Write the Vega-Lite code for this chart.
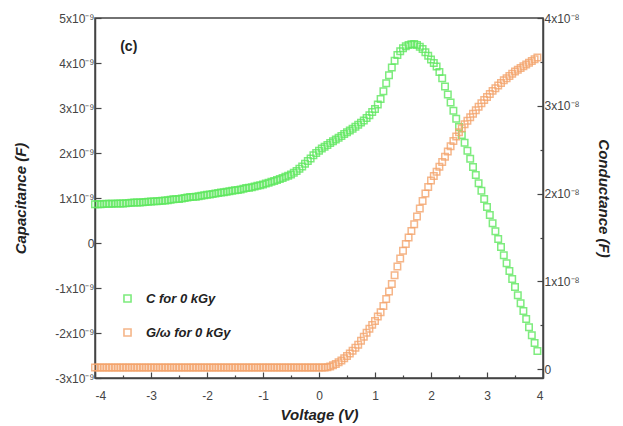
{
  "$schema": "https://vega.github.io/schema/vega-lite/v6.json",
  "width": 448,
  "height": 360,
  "autosize": "none",
  "padding": {"left": 95, "top": 18, "right": 80, "bottom": 48},
  "background": "white",
  "config": {
    "view": {"stroke": "#444", "strokeWidth": 1.5},
    "axis": {
      "labelFont": "Liberation Sans", "labelFontSize": 12, "labelColor": "#444",
      "titleFont": "Liberation Sans", "titleFontSize": 15, "titleFontWeight": "bold", "titleFontStyle": "italic", "titleColor": "#222",
      "domainColor": "#444", "domainWidth": 1.5, "tickColor": "#444", "tickWidth": 1.2, "grid": false
    },
    "legend": {"labelFont": "Liberation Sans", "labelFontSize": 13, "labelFontWeight": "bold", "labelFontStyle": "italic", "labelColor": "#222"}
  },
  "encoding": {
    "x": {
      "field": "V", "type": "quantitative",
      "scale": {"domain": [-4, 4], "nice": false, "zero": false},
      "axis": {
        "title": "Voltage (V)",
        "values": [-4,-3.5,-3,-2.5,-2,-1.5,-1,-0.5,0,0.5,1,1.5,2,2.5,3,3.5,4],
        "labelExpr": "abs(datum.value - round(datum.value)) > 0.1 ? '' : '' + round(datum.value)",
        "tickSize": {"condition": {"test": "abs(datum.value - round(datum.value)) > 0.1", "value": -3}, "value": -6},
        "labelPadding": 18,
        "titlePadding": 6
      }
    }
  },
  "layer": [
    {
      "data": {"values": [
        {"V":-4.00,"C":0.86e-9},{"V":-3.95,"C":0.86e-9},{"V":-3.90,"C":0.86e-9},{"V":-3.85,"C":0.865e-9},{"V":-3.80,"C":0.87e-9},
        {"V":-3.75,"C":0.87e-9},{"V":-3.70,"C":0.87e-9},{"V":-3.65,"C":0.875e-9},{"V":-3.60,"C":0.88e-9},{"V":-3.55,"C":0.88e-9},
        {"V":-3.50,"C":0.88e-9},{"V":-3.45,"C":0.885e-9},{"V":-3.40,"C":0.89e-9},{"V":-3.35,"C":0.895e-9},{"V":-3.30,"C":0.90e-9},
        {"V":-3.25,"C":0.90e-9},{"V":-3.20,"C":0.90e-9},{"V":-3.15,"C":0.905e-9},{"V":-3.10,"C":0.91e-9},{"V":-3.05,"C":0.915e-9},
        {"V":-3.00,"C":0.92e-9},{"V":-2.95,"C":0.925e-9},{"V":-2.90,"C":0.93e-9},{"V":-2.85,"C":0.935e-9},{"V":-2.80,"C":0.94e-9},
        {"V":-2.75,"C":0.945e-9},{"V":-2.70,"C":0.95e-9},{"V":-2.65,"C":0.96e-9},{"V":-2.60,"C":0.97e-9},{"V":-2.55,"C":0.975e-9},
        {"V":-2.50,"C":0.98e-9},{"V":-2.45,"C":0.99e-9},{"V":-2.40,"C":1.00e-9},{"V":-2.35,"C":1.01e-9},{"V":-2.30,"C":1.02e-9},
        {"V":-2.25,"C":1.025e-9},{"V":-2.20,"C":1.03e-9},{"V":-2.15,"C":1.04e-9},{"V":-2.10,"C":1.05e-9},{"V":-2.05,"C":1.06e-9},
        {"V":-2.00,"C":1.07e-9},{"V":-1.95,"C":1.08e-9},{"V":-1.90,"C":1.09e-9},{"V":-1.85,"C":1.10e-9},{"V":-1.80,"C":1.11e-9},
        {"V":-1.75,"C":1.12e-9},{"V":-1.70,"C":1.13e-9},{"V":-1.65,"C":1.14e-9},{"V":-1.60,"C":1.15e-9},{"V":-1.55,"C":1.16e-9},
        {"V":-1.50,"C":1.17e-9},{"V":-1.45,"C":1.18e-9},{"V":-1.40,"C":1.19e-9},{"V":-1.35,"C":1.205e-9},{"V":-1.30,"C":1.22e-9},
        {"V":-1.25,"C":1.23e-9},{"V":-1.20,"C":1.24e-9},{"V":-1.15,"C":1.255e-9},{"V":-1.10,"C":1.27e-9},{"V":-1.05,"C":1.285e-9},
        {"V":-1.00,"C":1.30e-9},{"V":-0.95,"C":1.32e-9},{"V":-0.90,"C":1.34e-9},{"V":-0.85,"C":1.36e-9},{"V":-0.80,"C":1.38e-9},
        {"V":-0.75,"C":1.40e-9},{"V":-0.70,"C":1.42e-9},{"V":-0.65,"C":1.445e-9},{"V":-0.60,"C":1.47e-9},{"V":-0.55,"C":1.495e-9},
        {"V":-0.50,"C":1.52e-9},{"V":-0.45,"C":1.56e-9},{"V":-0.40,"C":1.60e-9},{"V":-0.35,"C":1.65e-9},{"V":-0.30,"C":1.70e-9},
        {"V":-0.25,"C":1.76e-9},{"V":-0.20,"C":1.82e-9},{"V":-0.15,"C":1.88e-9},{"V":-0.10,"C":1.95e-9},{"V":-0.05,"C":2.00e-9},
        {"V":0.00,"C":2.05e-9},{"V":0.05,"C":2.10e-9},{"V":0.10,"C":2.14e-9},{"V":0.15,"C":2.18e-9},{"V":0.20,"C":2.22e-9},
        {"V":0.25,"C":2.26e-9},{"V":0.30,"C":2.30e-9},{"V":0.35,"C":2.34e-9},{"V":0.40,"C":2.38e-9},{"V":0.45,"C":2.42e-9},
        {"V":0.50,"C":2.46e-9},{"V":0.55,"C":2.50e-9},{"V":0.60,"C":2.54e-9},{"V":0.65,"C":2.585e-9},{"V":0.70,"C":2.63e-9},
        {"V":0.75,"C":2.675e-9},{"V":0.80,"C":2.72e-9},{"V":0.85,"C":2.78e-9},{"V":0.90,"C":2.84e-9},{"V":0.95,"C":2.91e-9},
        {"V":1.00,"C":2.98e-9},{"V":1.05,"C":3.08e-9},{"V":1.10,"C":3.20e-9},{"V":1.15,"C":3.37e-9},{"V":1.20,"C":3.55e-9},
        {"V":1.25,"C":3.73e-9},{"V":1.30,"C":3.90e-9},{"V":1.35,"C":4.05e-9},{"V":1.40,"C":4.18e-9},{"V":1.45,"C":4.26e-9},
        {"V":1.50,"C":4.33e-9},{"V":1.55,"C":4.37e-9},{"V":1.60,"C":4.40e-9},{"V":1.65,"C":4.415e-9},{"V":1.70,"C":4.42e-9},
        {"V":1.75,"C":4.40e-9},{"V":1.80,"C":4.36e-9},{"V":1.85,"C":4.31e-9},{"V":1.90,"C":4.24e-9},{"V":1.95,"C":4.16e-9},
        {"V":2.00,"C":4.08e-9},{"V":2.05,"C":4.00e-9},{"V":2.10,"C":3.92e-9},{"V":2.15,"C":3.80e-9},{"V":2.20,"C":3.66e-9},
        {"V":2.25,"C":3.48e-9},{"V":2.30,"C":3.30e-9},{"V":2.35,"C":3.12e-9},{"V":2.40,"C":2.94e-9},{"V":2.45,"C":2.76e-9},
        {"V":2.50,"C":2.58e-9},{"V":2.55,"C":2.40e-9},{"V":2.60,"C":2.23e-9},{"V":2.65,"C":2.05e-9},{"V":2.70,"C":1.87e-9},
        {"V":2.75,"C":1.69e-9},{"V":2.80,"C":1.51e-9},{"V":2.85,"C":1.33e-9},{"V":2.90,"C":1.16e-9},{"V":2.95,"C":0.98e-9},
        {"V":3.00,"C":0.80e-9},{"V":3.05,"C":0.62e-9},{"V":3.10,"C":0.44e-9},{"V":3.15,"C":0.26e-9},{"V":3.20,"C":0.09e-9},
        {"V":3.25,"C":-0.09e-9},{"V":3.30,"C":-0.27e-9},{"V":3.35,"C":-0.45e-9},{"V":3.40,"C":-0.62e-9},{"V":3.45,"C":-0.80e-9},
        {"V":3.50,"C":-0.98e-9},{"V":3.55,"C":-1.16e-9},{"V":3.60,"C":-1.34e-9},{"V":3.65,"C":-1.51e-9},{"V":3.70,"C":-1.69e-9},
        {"V":3.75,"C":-1.87e-9},{"V":3.80,"C":-2.05e-9},{"V":3.85,"C":-2.22e-9},{"V":3.90,"C":-2.40e-9}
      ]},
      "layer": [
        {
          "mark": {"type": "point", "shape": "square", "filled": false, "size": 42, "strokeWidth": 1.5, "opacity": 0.8},
          "encoding": {
            "y": {
              "field": "C", "type": "quantitative",
              "scale": {"domain": [-3e-9, 5e-9], "nice": false, "zero": false},
              "axis": {
                "title": "Capacitance (F)", "orient": "left",
                "values": [-3e-9,-2.5e-9,-2e-9,-1.5e-9,-1e-9,-0.5e-9,0,0.5e-9,1e-9,1.5e-9,2e-9,2.5e-9,3e-9,3.5e-9,4e-9,4.5e-9,5e-9],
                "labelExpr": "abs(datum.value*1e9 - round(datum.value*1e9)) > 0.1 ? '' : (round(datum.value*1e9) == 0 ? '0' : round(datum.value*1e9) + 'x10⁻⁹')",
                "tickSize": {"condition": {"test": "abs(datum.value*1e9 - round(datum.value*1e9)) > 0.1", "value": -3}, "value": -6},
                "labelPadding": 7,
                "titlePadding": 26
              }
            },
            "color": {
              "datum": "C for 0 kGy",
              "scale": {"domain": ["C for 0 kGy", "G/ω for 0 kGy"], "range": ["#5ee85e", "#f4a46c"]},
              "legend": {
                "title": null, "orient": "none", "legendX": 26, "legendY": 274,
                "symbolType": "square", "symbolFillColor": "transparent", "symbolStrokeWidth": 1.6, "symbolSize": 50,
                "rowPadding": 19, "labelOffset": 12
              }
            }
          }
        },
        {
          "data": {"values": [{"V": -3.55, "C": 4.35e-9, "t": "(c)"}]},
          "mark": {"type": "text", "font": "Liberation Sans", "fontSize": 14, "fontWeight": "bold", "color": "#222", "align": "left", "baseline": "middle"},
          "encoding": {
            "y": {"field": "C", "type": "quantitative"},
            "text": {"field": "t"}
          }
        }
      ]
    },
    {
      "data": {"values": [
        {"V":-4.00,"G":0.02e-8},{"V":-3.95,"G":0.02e-8},{"V":-3.90,"G":0.02e-8},{"V":-3.85,"G":0.02e-8},{"V":-3.80,"G":0.02e-8},
        {"V":-3.75,"G":0.02e-8},{"V":-3.70,"G":0.02e-8},{"V":-3.65,"G":0.02e-8},{"V":-3.60,"G":0.02e-8},{"V":-3.55,"G":0.02e-8},
        {"V":-3.50,"G":0.02e-8},{"V":-3.45,"G":0.02e-8},{"V":-3.40,"G":0.02e-8},{"V":-3.35,"G":0.02e-8},{"V":-3.30,"G":0.02e-8},
        {"V":-3.25,"G":0.02e-8},{"V":-3.20,"G":0.02e-8},{"V":-3.15,"G":0.02e-8},{"V":-3.10,"G":0.02e-8},{"V":-3.05,"G":0.02e-8},
        {"V":-3.00,"G":0.02e-8},{"V":-2.95,"G":0.02e-8},{"V":-2.90,"G":0.02e-8},{"V":-2.85,"G":0.02e-8},{"V":-2.80,"G":0.02e-8},
        {"V":-2.75,"G":0.02e-8},{"V":-2.70,"G":0.02e-8},{"V":-2.65,"G":0.02e-8},{"V":-2.60,"G":0.02e-8},{"V":-2.55,"G":0.02e-8},
        {"V":-2.50,"G":0.02e-8},{"V":-2.45,"G":0.02e-8},{"V":-2.40,"G":0.02e-8},{"V":-2.35,"G":0.02e-8},{"V":-2.30,"G":0.02e-8},
        {"V":-2.25,"G":0.02e-8},{"V":-2.20,"G":0.02e-8},{"V":-2.15,"G":0.02e-8},{"V":-2.10,"G":0.02e-8},{"V":-2.05,"G":0.02e-8},
        {"V":-2.00,"G":0.02e-8},{"V":-1.95,"G":0.02e-8},{"V":-1.90,"G":0.02e-8},{"V":-1.85,"G":0.02e-8},{"V":-1.80,"G":0.02e-8},
        {"V":-1.75,"G":0.02e-8},{"V":-1.70,"G":0.02e-8},{"V":-1.65,"G":0.02e-8},{"V":-1.60,"G":0.02e-8},{"V":-1.55,"G":0.02e-8},
        {"V":-1.50,"G":0.02e-8},{"V":-1.45,"G":0.02e-8},{"V":-1.40,"G":0.02e-8},{"V":-1.35,"G":0.02e-8},{"V":-1.30,"G":0.02e-8},
        {"V":-1.25,"G":0.02e-8},{"V":-1.20,"G":0.02e-8},{"V":-1.15,"G":0.02e-8},{"V":-1.10,"G":0.02e-8},{"V":-1.05,"G":0.02e-8},
        {"V":-1.00,"G":0.02e-8},{"V":-0.95,"G":0.02e-8},{"V":-0.90,"G":0.02e-8},{"V":-0.85,"G":0.02e-8},{"V":-0.80,"G":0.02e-8},
        {"V":-0.75,"G":0.02e-8},{"V":-0.70,"G":0.02e-8},{"V":-0.65,"G":0.02e-8},{"V":-0.60,"G":0.02e-8},{"V":-0.55,"G":0.02e-8},
        {"V":-0.50,"G":0.02e-8},{"V":-0.45,"G":0.02e-8},{"V":-0.40,"G":0.02e-8},{"V":-0.35,"G":0.02e-8},{"V":-0.30,"G":0.02e-8},
        {"V":-0.25,"G":0.02e-8},{"V":-0.20,"G":0.02e-8},{"V":-0.15,"G":0.02e-8},{"V":-0.10,"G":0.02e-8},{"V":-0.05,"G":0.02e-8},
        {"V":0.00,"G":0.02e-8},{"V":0.05,"G":0.02e-8},{"V":0.10,"G":0.02e-8},{"V":0.15,"G":0.022e-8},{"V":0.20,"G":0.03e-8},
        {"V":0.25,"G":0.045e-8},{"V":0.30,"G":0.06e-8},{"V":0.35,"G":0.08e-8},{"V":0.40,"G":0.10e-8},{"V":0.45,"G":0.125e-8},
        {"V":0.50,"G":0.15e-8},{"V":0.55,"G":0.18e-8},{"V":0.60,"G":0.21e-8},{"V":0.65,"G":0.245e-8},{"V":0.70,"G":0.28e-8},
        {"V":0.75,"G":0.325e-8},{"V":0.80,"G":0.37e-8},{"V":0.85,"G":0.415e-8},{"V":0.90,"G":0.46e-8},{"V":0.95,"G":0.505e-8},
        {"V":1.00,"G":0.55e-8},{"V":1.05,"G":0.60e-8},{"V":1.10,"G":0.65e-8},{"V":1.15,"G":0.72e-8},{"V":1.20,"G":0.80e-8},
        {"V":1.25,"G":0.885e-8},{"V":1.30,"G":0.97e-8},{"V":1.35,"G":1.07e-8},{"V":1.40,"G":1.17e-8},{"V":1.45,"G":1.26e-8},
        {"V":1.50,"G":1.35e-8},{"V":1.55,"G":1.425e-8},{"V":1.60,"G":1.50e-8},{"V":1.65,"G":1.575e-8},{"V":1.70,"G":1.65e-8},
        {"V":1.75,"G":1.74e-8},{"V":1.80,"G":1.83e-8},{"V":1.85,"G":1.915e-8},{"V":1.90,"G":2.00e-8},{"V":1.95,"G":2.075e-8},
        {"V":2.00,"G":2.15e-8},{"V":2.05,"G":2.20e-8},{"V":2.10,"G":2.25e-8},{"V":2.15,"G":2.305e-8},{"V":2.20,"G":2.36e-8},
        {"V":2.25,"G":2.42e-8},{"V":2.30,"G":2.48e-8},{"V":2.35,"G":2.54e-8},{"V":2.40,"G":2.60e-8},{"V":2.45,"G":2.65e-8},
        {"V":2.50,"G":2.70e-8},{"V":2.55,"G":2.745e-8},{"V":2.60,"G":2.79e-8},{"V":2.65,"G":2.83e-8},{"V":2.70,"G":2.87e-8},
        {"V":2.75,"G":2.91e-8},{"V":2.80,"G":2.95e-8},{"V":2.85,"G":2.99e-8},{"V":2.90,"G":3.03e-8},{"V":2.95,"G":3.065e-8},
        {"V":3.00,"G":3.10e-8},{"V":3.05,"G":3.135e-8},{"V":3.10,"G":3.17e-8},{"V":3.15,"G":3.20e-8},{"V":3.20,"G":3.23e-8},
        {"V":3.25,"G":3.26e-8},{"V":3.30,"G":3.29e-8},{"V":3.35,"G":3.315e-8},{"V":3.40,"G":3.34e-8},{"V":3.45,"G":3.365e-8},
        {"V":3.50,"G":3.39e-8},{"V":3.55,"G":3.41e-8},{"V":3.60,"G":3.43e-8},{"V":3.65,"G":3.45e-8},{"V":3.70,"G":3.47e-8},
        {"V":3.75,"G":3.49e-8},{"V":3.80,"G":3.51e-8},{"V":3.85,"G":3.53e-8},{"V":3.90,"G":3.55e-8}
      ]},
      "mark": {"type": "point", "shape": "square", "filled": false, "size": 42, "strokeWidth": 1.5, "opacity": 0.8},
      "encoding": {
        "y": {
          "field": "G", "type": "quantitative",
          "scale": {"domain": [-0.1e-8, 4e-8], "nice": false, "zero": false},
          "axis": {
            "title": "Conductance (F)", "orient": "right",
            "values": [0,0.5e-8,1e-8,1.5e-8,2e-8,2.5e-8,3e-8,3.5e-8,4e-8],
            "labelExpr": "abs(datum.value*1e8 - round(datum.value*1e8)) > 0.1 ? '' : (round(datum.value*1e8) == 0 ? '0' : round(datum.value*1e8) + 'x10⁻⁸')",
            "tickSize": {"condition": {"test": "abs(datum.value*1e8 - round(datum.value*1e8)) > 0.1", "value": -3}, "value": -6},
            "labelPadding": 7,
            "titlePadding": 16
          }
        },
        "color": {"datum": "G/ω for 0 kGy"}
      }
    }
  ],
  "resolve": {"scale": {"y": "independent"}}
}
